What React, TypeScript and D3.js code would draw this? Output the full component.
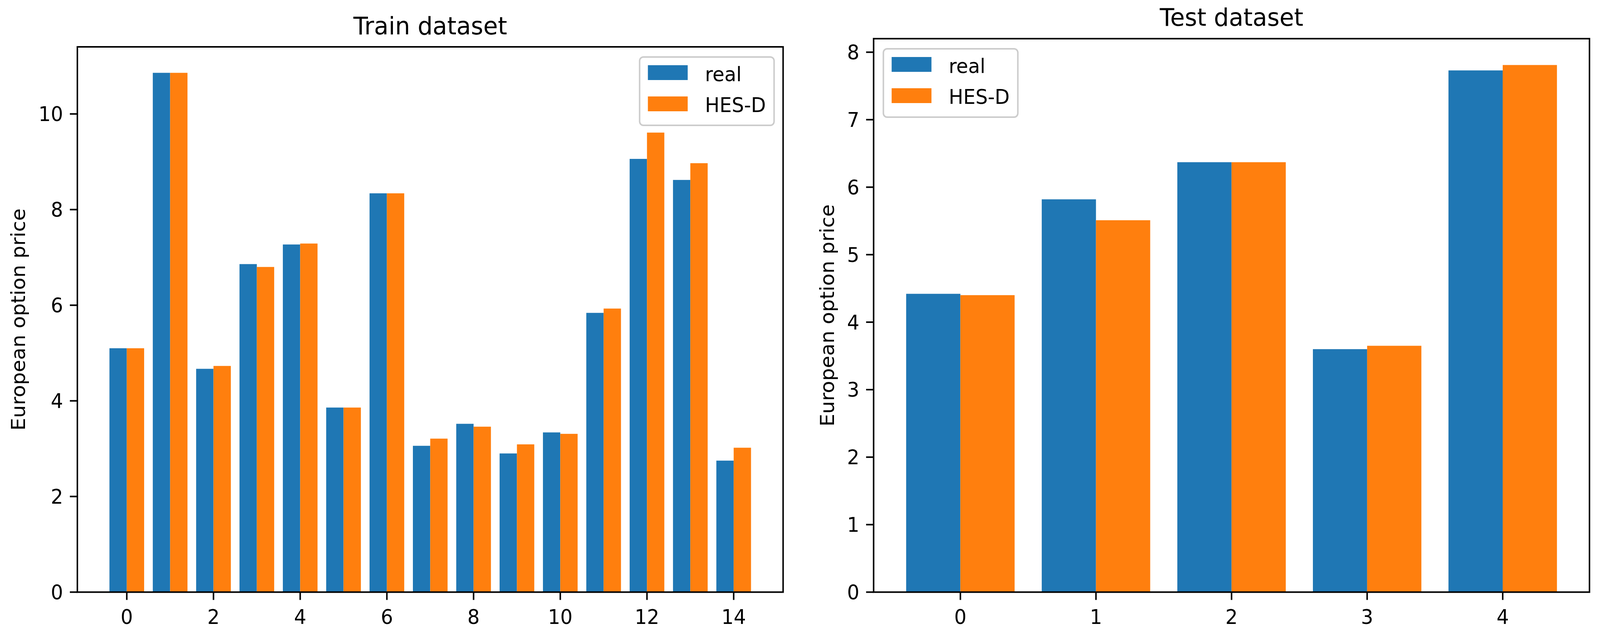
import React from 'react';
import * as d3 from 'd3';

// Train dataset (15 options)
const trainIndex = [0, 1, 2, 3, 4, 5, 6, 7, 8, 9, 10, 11, 12, 13, 14];
const trainReal = [5.10, 10.86, 4.67, 6.86, 7.27, 3.86, 8.34, 3.06, 3.52, 2.90, 3.34, 5.84, 9.06, 8.62, 2.75];
const trainHesd = [5.10, 10.86, 4.73, 6.80, 7.29, 3.86, 8.34, 3.21, 3.46, 3.09, 3.31, 5.93, 9.61, 8.97, 3.02];
const trainXTicks = [0, 2, 4, 6, 8, 10, 12, 14];
const trainYTicks = [0, 2, 4, 6, 8, 10];

// Test dataset (5 options)
const testIndex = [0, 1, 2, 3, 4];
const testReal = [4.42, 5.82, 6.37, 3.60, 7.73];
const testHesd = [4.40, 5.51, 6.37, 3.65, 7.81];
const testXTicks = [0, 1, 2, 3, 4];
const testYTicks = [0, 1, 2, 3, 4, 5, 6, 7, 8];

const seriesNames = ['real', 'HES-D'];
const seriesColors = ['#1f77b4', '#ff7f0e'];

const FONT = '"DejaVu Sans", Verdana, sans-serif';
const BAR_W = 0.4;
const TICK_FS = 51.5;
const TITLE_FS = 63;
const TICK_LEN = 20;
const W = 4260;
const H = 1634;

type Box = { left: number; right: number; top: number; bottom: number };

interface PanelProps {
  title: string;
  index: number[];
  real: number[];
  hesd: number[];
  xTicks: number[];
  yTicks: number[];
  box: Box;
  legendLeft: boolean;
  labelX: number;
  titleY: number;
}

const Panel: React.FC<PanelProps> = ({ title, index, real, hesd, xTicks, yTicks, box, legendLeft, labelX, titleY }) => {
  // matplotlib-like autoscale: 5% margin on x, bars stick to 0 on y
  const lo = (d3.min(index) as number) - BAR_W;
  const hi = (d3.max(index) as number) + BAR_W;
  const pad = (hi - lo) * 0.05;
  const x = d3.scaleLinear().domain([lo - pad, hi + pad]).range([box.left, box.right]);
  const yMax = (d3.max([...real, ...hesd]) as number) * 1.05;
  const y = d3.scaleLinear().domain([0, yMax]).range([box.bottom, box.top]);

  const series = [real, hesd];

  // legend placement
  const legW = 358;
  const legH = 175;
  const legX = legendLeft ? box.left + 26 : box.right - 24 - legW;
  const legY = box.top + 26;

  return (
    <g>
      <text
        x={(box.left + box.right) / 2}
        y={titleY}
        textAnchor="middle"
        fontSize={TITLE_FS}
        fontFamily={FONT}
        fill="#000"
      >
        {title}
      </text>

      {series.map((vals, s) => (
        <g key={s}>
          {vals.map((v, i) => {
            const x0 = x(index[i] + (s === 0 ? -BAR_W : 0));
            const x1 = x(index[i] + (s === 0 ? 0 : BAR_W));
            return (
              <rect
                key={i}
                x={x0}
                y={y(v)}
                width={x1 - x0}
                height={y(0) - y(v)}
                fill={seriesColors[s]}
              />
            );
          })}
        </g>
      ))}

      {/* spines */}
      <rect
        x={box.left}
        y={box.top}
        width={box.right - box.left}
        height={box.bottom - box.top}
        fill="none"
        stroke="#000"
        strokeWidth={4}
      />

      {/* x ticks */}
      {xTicks.map((t) => (
        <g key={'x' + t}>
          <line x1={x(t)} x2={x(t)} y1={box.bottom} y2={box.bottom + TICK_LEN} stroke="#000" strokeWidth={4} />
          <text
            x={x(t)}
            y={box.bottom + 82}
            textAnchor="middle"
            fontSize={TICK_FS}
            fontFamily={FONT}
            fill="#000"
          >
            {t}
          </text>
        </g>
      ))}

      {/* y ticks */}
      {yTicks.map((t) => (
        <g key={'y' + t}>
          <line x1={box.left - TICK_LEN} x2={box.left} y1={y(t)} y2={y(t)} stroke="#000" strokeWidth={4} />
          <text
            x={box.left - 38}
            y={y(t)}
            dy="0.36em"
            textAnchor="end"
            fontSize={TICK_FS}
            fontFamily={FONT}
            fill="#000"
          >
            {t}
          </text>
        </g>
      ))}

      {/* y label */}
      <text
        transform={`translate(${labelX},${(box.top + box.bottom) / 2}) rotate(-90)`}
        textAnchor="middle"
        fontSize={TICK_FS}
        fontFamily={FONT}
        fill="#000"
      >
        European option price
      </text>

      {/* legend */}
      <g transform={`translate(${legX},${legY})`}>
        <rect
          x={0}
          y={0}
          width={legW}
          height={legH}
          rx={10}
          ry={10}
          fill="#fff"
          fillOpacity={0.8}
          stroke="#cccccc"
          strokeWidth={4}
        />
        {seriesNames.map((name, s) => (
          <g key={name}>
            <rect x={22} y={21 + s * 80} width={106} height={38} fill={seriesColors[s]} />
            <text
              x={174}
              y={62 + s * 79}
              fontSize={TICK_FS}
              fontFamily={FONT}
              fill="#000"
            >
              {name}
            </text>
          </g>
        ))}
      </g>
    </g>
  );
};

const App: React.FC = () => {
  // fit the drawing to whatever the viewport really is
  return (
    <svg
      viewBox={`0 0 ${W} ${H}`}
      preserveAspectRatio="none"
      style={{ position: 'fixed', left: 0, top: 0, width: '100vw', height: '100vh', background: '#fff' }}
    >
      <rect x={0} y={0} width={W} height={H} fill="#fff" />
      <Panel
        title="Train dataset"
        index={trainIndex}
        real={trainReal}
        hesd={trainHesd}
        xTicks={trainXTicks}
        yTicks={trainYTicks}
        box={{ left: 206, right: 2085, top: 120, bottom: 1516.5 }}
        legendLeft={false}
        labelX={67}
        titleY={88}
      />
      <Panel
        title="Test dataset"
        index={testIndex}
        real={testReal}
        hesd={testHesd}
        xTicks={testXTicks}
        yTicks={testYTicks}
        box={{ left: 2326, right: 4232, top: 99, bottom: 1516.5 }}
        legendLeft={true}
        labelX={2221}
        titleY={66}
      />
    </svg>
  );
};

export default App;
